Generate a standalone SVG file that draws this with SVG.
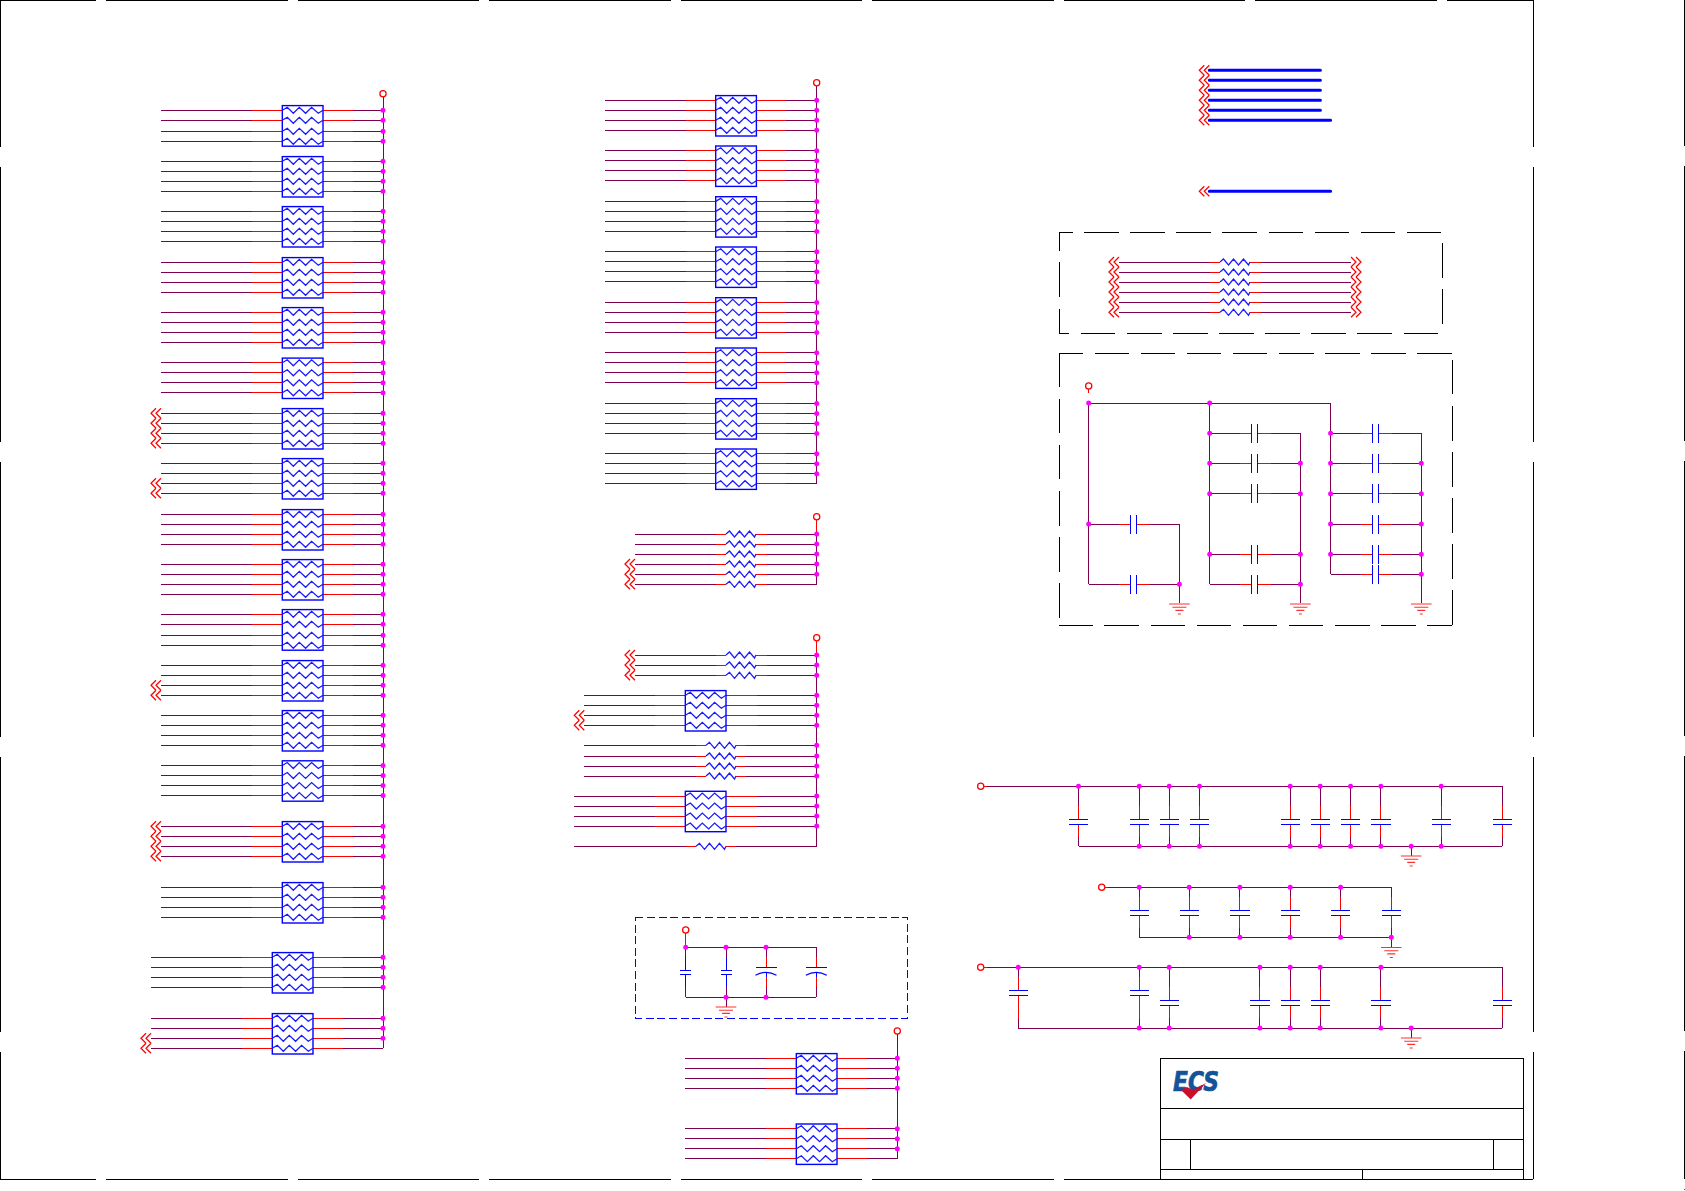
<svg xmlns="http://www.w3.org/2000/svg" width="1685" height="1191" viewBox="0 0 1685 1191">
<style>
.p{fill:none;stroke:#7f0050;stroke-width:1;shape-rendering:crispEdges}
.r{fill:none;stroke:#ff0000;stroke-width:1;shape-rendering:crispEdges}
.c{fill:none;stroke:#ff0000;stroke-width:1.25}
.g{fill:none;stroke:#ff3030;stroke-width:1.1}
.b{fill:none;stroke:#0000ff;stroke-width:1;shape-rendering:crispEdges}
.a{fill:none;stroke:#0000ff;stroke-width:1.2}
.z{fill:none;stroke:#1a1aff;stroke-width:1.25}
.bx{fill:none;stroke:#0000ff;stroke-width:1.4}
.bus{fill:none;stroke:#0000ff;stroke-width:3;stroke-linecap:round}
.k{fill:none;stroke:#000000;stroke-width:1;shape-rendering:crispEdges}
.d{fill:none;stroke:#ff00ff;stroke-width:5;stroke-linecap:round}
.dk{fill:none;stroke:#000000;stroke-width:1;stroke-dasharray:34.6 11.5;shape-rendering:crispEdges}
.db{fill:none;stroke:#0000ff;stroke-width:1;stroke-dasharray:8 3.6;shape-rendering:crispEdges}
</style>
<defs>
<path id="z30" class="z" d="M0 0L3.5 -3L8.5 3L13.5 -3L18.5 3L23.5 -3L28.5 3L30 0"/>
<path id="z41" class="z" d="M0 0L5 -3L11 3L17 -3L23.3 3L29.3 -3L36 3L40.7 0"/>
<g id="rp"><rect class="bx" x="0" y="-4.7" width="40.7" height="40.4"/><use href="#z41"/><use href="#z41" y="10"/><use href="#z41" y="20"/><use href="#z41" y="30"/></g>
<g id="rp2"><rect class="bx" x="0" y="-4.7" width="40.7" height="40.6"/><use href="#z41"/><use href="#z41" y="10"/><use href="#z41" y="21"/><use href="#z41" y="31"/></g>
<path id="ch" class="c" d="M5 -5L0 0L5 5M10 -5L5 0L10 5"/>
<path id="chr" class="c" d="M0 -5L5 0L0 5M5 -5L10 0L5 5"/>
<g id="wA"><path class="p" d="M-121.3 0H-30M70.7 0H100.7M-121.3 10H-30M70.7 10H100.7M-121.3 20H-30M70.7 20H100.7M-121.3 30H-30M70.7 30H100.7"/><path class="r" d="M-30 0H0M40.7 0H70.7M-30 10H0M40.7 10H70.7M-30 20H0M40.7 20H70.7M-30 30H0M40.7 30H70.7"/></g>
<g id="wA2"><path class="p" d="M-121.3 0H-30M70.7 0H100.7M-121.3 10H-30M70.7 10H100.7M-121.3 21H-30M70.7 21H100.7M-121.3 31H-30M70.7 31H100.7"/><path class="r" d="M-30 0H0M40.7 0H70.7M-30 10H0M40.7 10H70.7M-30 21H0M40.7 21H70.7M-30 31H0M40.7 31H70.7"/></g>
<g id="wB"><path class="p" d="M-121.3 0H-30M70.7 0H110.7M-121.3 10H-30M70.7 10H110.7M-121.3 20H-30M70.7 20H110.7M-121.3 30H-30M70.7 30H110.7"/><path class="r" d="M-30 0H0M40.7 0H70.7M-30 10H0M40.7 10H70.7M-30 20H0M40.7 20H70.7M-30 30H0M40.7 30H70.7"/></g>
<g id="wC"><path class="p" d="M-111 0H-30M70.7 0H101M-111 10H-30M70.7 10H101M-111 20H-30M70.7 20H101M-111 30H-30M70.7 30H101"/><path class="r" d="M-30 0H0M40.7 0H70.7M-30 10H0M40.7 10H70.7M-30 20H0M40.7 20H70.7M-30 30H0M40.7 30H70.7"/></g>
<g id="wD"><path class="p" d="M-101 0H-30M71.4 0H131.4M-101 10H-30M71.4 10H131.4M-101 20H-30M71.4 20H131.4M-101 30H-30M71.4 30H131.4"/><path class="r" d="M-30 0H0M40.7 0H71.4M-30 10H0M40.7 10H71.4M-30 20H0M40.7 20H71.4M-30 30H0M40.7 30H71.4"/></g>
<g id="wE"><path class="p" d="M-111 0H-30M71.4 0H131.4M-111 10H-30M71.4 10H131.4M-111 20H-30M71.4 20H131.4M-111 30H-30M71.4 30H131.4"/><path class="r" d="M-30 0H0M40.7 0H71.4M-30 10H0M40.7 10H71.4M-30 20H0M40.7 20H71.4M-30 30H0M40.7 30H71.4"/></g>
<g id="wS"><path class="p" d="M-91 0H-10M40.7 0H90.7"/><path class="r" d="M-10 0H0M30 0H40.7"/><use href="#z30"/></g>
<g id="wT"><path class="p" d="M-121.7 0H-10M40 0H110.7"/><path class="r" d="M-10 0H0M30 0H40"/><use href="#z30"/></g>
<g id="wU"><path class="p" d="M-121.7 0H-10M39.7 0H120.7"/><path class="r" d="M-10 0H0M30 0H39.7"/><use href="#z30"/></g>
<g id="wV"><path class="p" d="M-101 0H-10M40.7 0H131"/><path class="r" d="M-10 0H0M30 0H40.7"/><use href="#z30"/></g>
<path id="d4" class="d" d="M0 0h0M0 10h0M0 20h0M0 30h0"/>
<path id="d5" class="d" d="M0 0h0M0 10h0M0 21h0M0 31h0"/>
<path id="d3" class="d" d="M0 0h0M0 10h0M0 20h0"/>
<g id="capH"><path class="p" d="M0 0H30.3M61.3 0H90.7"/><path class="r" d="M30.3 0H42M47.7 0H61.3"/><path class="b" d="M42 -9.5V9.5M47.7 -9.5V9.5"/></g>
<g id="cap60"><path class="p" d="M0 0V20M0 50.7V60"/><path class="r" d="M0 20V33M0 38V50.7"/><path class="b" d="M-9.6 33H9.6M-9.6 38H9.6"/></g>
<g id="cap50"><path class="p" d="M0 0V9.4M0 41V50"/><path class="r" d="M0 9.4V23.4M0 28.4V41"/><path class="b" d="M-9.6 23.4H9.6M-9.6 28.4H9.6"/></g>
<g id="capA"><path class="p" d="M0 0V10M0 52V60.7"/><path class="r" d="M0 10V23M0 28V52"/><path class="b" d="M-9.6 23H9.6M-9.6 28H9.6"/></g>
<g id="capB"><path class="p" d="M0 0V20M0 51V60.7"/><path class="r" d="M0 20V33M0 38V51"/><path class="b" d="M-9.6 33H9.6M-9.6 38H9.6"/></g>
<g id="capS"><path class="p" d="M0 0V10M0 40V50"/><path class="b" d="M0 10V23M0 27.4V40M-5.5 23H5.5M-5.5 27.4H5.5"/></g>
<g id="capP"><path class="p" d="M0 0V10M0 40V50"/><path class="r" d="M0 10V20M0 30V40"/><path class="b" d="M-10.5 20H10.5M0 24.7V30"/><path class="a" d="M-10.5 28Q0 22 10.5 28"/></g>
<path id="gnd" class="g" d="M-10.3 0H10.3M-7 3.2H7M-4 6.4H4M-1.5 10H1.5"/>
<circle id="pwr" class="c" r="3.1" fill="none"/>
</defs>

<g id="frame">
<path class="k" d="M0 0.5H96M106 0.5H287.5M297.5 0.5H479M489 0.5H670.5M680.5 0.5H862M872 0.5H1053.5M1063.5 0.5H1245M1255 0.5H1436.5M1446.5 0.5H1533.3"/>
<path class="k" d="M0 1179.3H96M106 1179.3H287.5M297.5 1179.3H479M489 1179.3H670.5M680.5 1179.3H862M872 1179.3H1053.5M1063.5 1179.3H1245M1255 1179.3H1436.5M1446.5 1179.3H1533.3"/>
<path class="k" d="M0.5 0V146.5M0.5 166.5V441.5M0.5 461.5V736.5M0.5 756.5V1031.5M0.5 1051.5V1179.3"/>
<path class="k" d="M1533.3 0V146.5M1533.3 166.5V441.5M1533.3 461.5V736.5M1533.3 756.5V1031.5M1533.3 1051.5V1179.3"/>
<path class="k" d="M1684.3 0V146M1684.3 166V441M1684.3 461V736M1684.3 756V1031M1684.3 1051V1179.3"/>
</g>

<g id="connectors">
<use href="#wA2" x="282.3" y="110.3"/><use href="#wA" x="282.3" y="161.3"/><use href="#wA" x="282.3" y="211.3"/><use href="#wA" x="282.3" y="262.3"/><use href="#wA" x="282.3" y="312.3"/><use href="#wA" x="282.3" y="362.8"/><use href="#wA" x="282.3" y="413.3"/><use href="#wA" x="282.3" y="463.3"/><use href="#wA" x="282.3" y="514.3"/><use href="#wA" x="282.3" y="564.3"/><use href="#wA2" x="282.3" y="614.3"/><use href="#wA" x="282.3" y="665.3"/><use href="#wA" x="282.3" y="715.3"/><use href="#wA" x="282.3" y="765.5"/><use href="#wA" x="282.3" y="826.3"/><use href="#wA" x="282.3" y="887.3"/>
<use href="#wB" x="272.3" y="957.3"/><use href="#wB" x="272.3" y="1018.3"/>
<path class="p" d="M383 97V1048.3"/>
<use href="#wC" x="715.7" y="100.3"/><use href="#wC" x="715.7" y="150.7"/><use href="#wC" x="715.7" y="201.4"/><use href="#wC" x="715.7" y="251.7"/><use href="#wC" x="715.7" y="302.4"/><use href="#wC" x="715.7" y="352.7"/><use href="#wC" x="715.7" y="403.4"/><use href="#wC" x="715.7" y="453.7"/>
<path class="p" d="M816.7 85.7V483.7"/>
<use href="#wS" x="726" y="534"/><use href="#wS" x="726" y="544"/><use href="#wS" x="726" y="554"/><use href="#wS" x="726" y="564"/><use href="#wS" x="726" y="574.3"/><use href="#wS" x="726" y="584.3"/>
<path class="r" d="M816.7 519.7V534"/><path class="p" d="M816.7 534V584.3"/>
<use href="#wS" x="726" y="655"/><use href="#wS" x="726" y="665"/><use href="#wS" x="726" y="675.3"/>
<use href="#wD" x="685.3" y="695.3"/>
<use href="#wT" x="706" y="745.3"/><use href="#wT" x="706" y="756"/><use href="#wT" x="706" y="766"/><use href="#wT" x="706" y="776"/>
<use href="#wE" x="685.3" y="796"/>
<use href="#wU" x="696" y="846.3"/>
<path class="r" d="M816.7 640.7V655"/><path class="p" d="M816.7 655V846.3"/>
<use href="#wC" x="796.3" y="1058.3"/><use href="#wC" x="796.3" y="1128.7"/>
<path class="p" d="M897.3 1034V1159"/>
<path class="bus" d="M1209.3 70.3H1320.4M1209.3 80.3H1320.4M1209.3 90.3H1320.4M1209.3 100.3H1320.4M1209.3 110.3H1320.4M1209.3 120.3H1330.6M1209.3 191.3H1330.6"/>
<use href="#wV" x="1220" y="262"/><use href="#wV" x="1220" y="272"/><use href="#wV" x="1220" y="282"/><use href="#wV" x="1220" y="292"/><use href="#wV" x="1220" y="302"/><use href="#wV" x="1220" y="312.3"/>
<path class="p" d="M1088.7 403V584.3M1088.7 403H1330.3V574.3M1209.7 403V584.3M1179.4 524V603M1300.4 433.3V603M1421.3 433.3V603"/>
<path class="r" d="M1088.7 389V393"/>
<path class="p" d="M985 786.3H1502.3M1078.5 846.3H1502.3M1411.2 846.3V856"/><path class="r" d="M983.8 786.3H987"/>
<path class="p" d="M1106 887.3H1391.3M1139.2 937.3H1391.3V947"/><path class="r" d="M1104.7 887.3H1108"/>
<path class="p" d="M985 967.3H1502.3M1018.2 1028H1502.3M1411.2 1028V1037.7"/><path class="r" d="M983.8 967.3H987"/>
<path class="p" d="M685.7 947.3H816.3M685.7 997.3H816.3M726 997.3V1007"/><path class="r" d="M685.7 933V947"/>
</g>

<g id="offpage">
<use href="#ch" x="151" y="413.3"/><use href="#ch" x="151" y="423.3"/><use href="#ch" x="151" y="433.3"/><use href="#ch" x="151" y="443.3"/>
<use href="#ch" x="151" y="483.3"/><use href="#ch" x="151" y="493.3"/>
<use href="#ch" x="151" y="685.3"/><use href="#ch" x="151" y="695.3"/>
<use href="#ch" x="151" y="826.3"/><use href="#ch" x="151" y="836.3"/><use href="#ch" x="151" y="846.3"/><use href="#ch" x="151" y="856.3"/>
<use href="#ch" x="141" y="1038.3"/><use href="#ch" x="141" y="1048.3"/>
<use href="#ch" x="625" y="564"/><use href="#ch" x="625" y="574.3"/><use href="#ch" x="625" y="584.3"/>
<use href="#ch" x="625" y="655"/><use href="#ch" x="625" y="665"/><use href="#ch" x="625" y="675.3"/>
<use href="#ch" x="574.3" y="715.3"/><use href="#ch" x="574.3" y="725.3"/>
<use href="#ch" x="1199.3" y="70.3"/><use href="#ch" x="1199.3" y="80.3"/><use href="#ch" x="1199.3" y="90.3"/><use href="#ch" x="1199.3" y="100.3"/><use href="#ch" x="1199.3" y="110.3"/><use href="#ch" x="1199.3" y="120.3"/><use href="#ch" x="1199.3" y="191.3"/>
<use href="#ch" x="1109" y="262"/><use href="#ch" x="1109" y="272"/><use href="#ch" x="1109" y="282"/><use href="#ch" x="1109" y="292"/><use href="#ch" x="1109" y="302"/><use href="#ch" x="1109" y="312.3"/>
<use href="#chr" x="1351" y="262"/><use href="#chr" x="1351" y="272"/><use href="#chr" x="1351" y="282"/><use href="#chr" x="1351" y="292"/><use href="#chr" x="1351" y="302"/><use href="#chr" x="1351" y="312.3"/>
</g>

<g id="resistor-packs">
<g id="rp01"><use href="#rp2" x="282.3" y="110.3"/></g><g id="rp02"><use href="#rp" x="282.3" y="161.3"/></g><g id="rp03"><use href="#rp" x="282.3" y="211.3"/></g><g id="rp04"><use href="#rp" x="282.3" y="262.3"/></g><g id="rp05"><use href="#rp" x="282.3" y="312.3"/></g><g id="rp06"><use href="#rp" x="282.3" y="362.8"/></g><g id="rp07"><use href="#rp" x="282.3" y="413.3"/></g><g id="rp08"><use href="#rp" x="282.3" y="463.3"/></g><g id="rp09"><use href="#rp" x="282.3" y="514.3"/></g><g id="rp10"><use href="#rp" x="282.3" y="564.3"/></g><g id="rp11"><use href="#rp2" x="282.3" y="614.3"/></g><g id="rp12"><use href="#rp" x="282.3" y="665.3"/></g><g id="rp13"><use href="#rp" x="282.3" y="715.3"/></g><g id="rp14"><use href="#rp" x="282.3" y="765.5"/></g><g id="rp15"><use href="#rp" x="282.3" y="826.3"/></g><g id="rp16"><use href="#rp" x="282.3" y="887.3"/></g><g id="rp17"><use href="#rp" x="272.3" y="957.3"/></g><g id="rp18"><use href="#rp" x="272.3" y="1018.3"/></g>
<g id="rp19"><use href="#rp" x="715.7" y="100.3"/></g><g id="rp20"><use href="#rp" x="715.7" y="150.7"/></g><g id="rp21"><use href="#rp" x="715.7" y="201.4"/></g><g id="rp22"><use href="#rp" x="715.7" y="251.7"/></g><g id="rp23"><use href="#rp" x="715.7" y="302.4"/></g><g id="rp24"><use href="#rp" x="715.7" y="352.7"/></g><g id="rp25"><use href="#rp" x="715.7" y="403.4"/></g><g id="rp26"><use href="#rp" x="715.7" y="453.7"/></g>
<g id="rp27"><use href="#rp" x="685.3" y="695.3"/></g><g id="rp28"><use href="#rp" x="685.3" y="796"/></g>
<g id="rp29"><use href="#rp" x="796.3" y="1058.3"/></g><g id="rp30"><use href="#rp" x="796.3" y="1128.7"/></g>
</g>

<g id="dashed-boxes">
<path class="dk" stroke-dashoffset="21.3" d="M1059.3 232.3H1442.7"/><path class="dk" stroke-dashoffset="16" d="M1059.3 232.3V333.3"/><path class="dk" stroke-dashoffset="24.6" d="M1059.3 333.3H1442.7"/><path class="dk" stroke-dashoffset="35.3" d="M1442.7 232.3V333.3"/>
<path class="dk" stroke-dashoffset="10.9" d="M1059.3 353.7H1452.3"/><path class="dk" stroke-dashoffset="1.1" d="M1059.3 353.7V625.3"/><path class="dk" stroke-dashoffset="1" d="M1059.3 625.3H1452.3"/><path class="dk" stroke-dashoffset="40" d="M1452.3 353.7V625.3"/>
<rect class="db" x="635.3" y="917.3" width="272" height="101"/>
</g>

<g id="capacitors">
<g id="c1"><use href="#capH" x="1088.7" y="524"/></g><g id="c2"><use href="#capH" x="1088.7" y="584.3"/></g>
<g id="c3"><use href="#capH" x="1209.7" y="433.3"/></g><g id="c4"><use href="#capH" x="1209.7" y="463.3"/></g><g id="c5"><use href="#capH" x="1209.7" y="493.7"/></g><g id="c6"><use href="#capH" x="1209.7" y="554.3"/></g><g id="c7"><use href="#capH" x="1209.7" y="584.3"/></g>
<g id="c8"><use href="#capH" x="1330.6" y="433.3"/></g><g id="c9"><use href="#capH" x="1330.6" y="463.3"/></g><g id="c10"><use href="#capH" x="1330.6" y="493.7"/></g><g id="c11"><use href="#capH" x="1330.6" y="524"/></g><g id="c12"><use href="#capH" x="1330.6" y="554.3"/></g><g id="c13"><use href="#capH" x="1330.6" y="574.3"/></g>
<g id="c14"><use href="#cap60" x="1078.5" y="786.3"/></g><g id="c15"><use href="#cap60" x="1139.2" y="786.3"/></g><g id="c16"><use href="#cap60" x="1169.2" y="786.3"/></g><g id="c17"><use href="#cap60" x="1199.5" y="786.3"/></g><g id="c18"><use href="#cap60" x="1290.2" y="786.3"/></g><g id="c19"><use href="#cap60" x="1320.2" y="786.3"/></g><g id="c20"><use href="#cap60" x="1350.6" y="786.3"/></g><g id="c21"><use href="#cap60" x="1380.9" y="786.3"/></g><g id="c22"><use href="#cap60" x="1441.2" y="786.3"/></g><g id="c23"><use href="#cap60" x="1502.3" y="786.3"/></g>
<g id="c24"><use href="#cap50" x="1139.2" y="887.3"/></g><g id="c25"><use href="#cap50" x="1189.2" y="887.3"/></g><g id="c26"><use href="#cap50" x="1239.9" y="887.3"/></g><g id="c27"><use href="#cap50" x="1290.2" y="887.3"/></g><g id="c28"><use href="#cap50" x="1340.6" y="887.3"/></g><g id="c29"><use href="#cap50" x="1391.3" y="887.3"/></g>
<g id="c30"><use href="#capA" x="1018.2" y="967.3"/></g><g id="c31"><use href="#capA" x="1139.2" y="967.3"/></g><g id="c32"><use href="#capB" x="1169.2" y="967.3"/></g><g id="c33"><use href="#capB" x="1259.9" y="967.3"/></g><g id="c34"><use href="#capB" x="1290.2" y="967.3"/></g><g id="c35"><use href="#capB" x="1320.2" y="967.3"/></g><g id="c36"><use href="#capB" x="1380.9" y="967.3"/></g><g id="c37"><use href="#capB" x="1502.3" y="967.3"/></g>
<g id="c38"><use href="#capS" x="685.7" y="947.3"/></g><g id="c39"><use href="#capS" x="726" y="947.3"/></g><g id="c40"><use href="#capP" x="766" y="947.3"/></g><g id="c41"><use href="#capP" x="816.3" y="947.3"/></g>
</g>

<g id="grounds">
<use href="#gnd" x="1179.4" y="604"/><use href="#gnd" x="1300.4" y="604"/><use href="#gnd" x="1421.3" y="604"/>
<use href="#gnd" x="1411.2" y="856"/><use href="#gnd" x="1391.3" y="947.5"/><use href="#gnd" x="1411.2" y="1038"/><use href="#gnd" x="726" y="1007"/>
</g>

<g id="power">
<use href="#pwr" x="383" y="93.7"/><use href="#pwr" x="816.7" y="82.7"/><use href="#pwr" x="816.7" y="516.7"/><use href="#pwr" x="816.7" y="637.7"/><use href="#pwr" x="897.3" y="1031"/><use href="#pwr" x="1088.7" y="386"/><use href="#pwr" x="980.7" y="786.3"/><use href="#pwr" x="1101.7" y="887.3"/><use href="#pwr" x="980.7" y="967.3"/><use href="#pwr" x="685.7" y="930"/>
</g>

<g id="junctions">
<use href="#d5" x="383" y="110.3"/><use href="#d4" x="383" y="161.3"/><use href="#d4" x="383" y="211.3"/><use href="#d4" x="383" y="262.3"/><use href="#d4" x="383" y="312.3"/><use href="#d4" x="383" y="362.8"/><use href="#d4" x="383" y="413.3"/><use href="#d4" x="383" y="463.3"/><use href="#d4" x="383" y="514.3"/><use href="#d4" x="383" y="564.3"/><use href="#d5" x="383" y="614.3"/><use href="#d4" x="383" y="665.3"/><use href="#d4" x="383" y="715.3"/><use href="#d4" x="383" y="765.5"/><use href="#d4" x="383" y="826.3"/><use href="#d4" x="383" y="887.3"/><use href="#d4" x="383" y="957.3"/><use href="#d3" x="383" y="1018.3"/>
<use href="#d4" x="816.7" y="100.3"/><use href="#d4" x="816.7" y="150.7"/><use href="#d4" x="816.7" y="201.4"/><use href="#d4" x="816.7" y="251.7"/><use href="#d4" x="816.7" y="302.4"/><use href="#d4" x="816.7" y="352.7"/><use href="#d4" x="816.7" y="403.4"/><use href="#d3" x="816.7" y="453.7"/>
<path class="d" d="M816.7 534h0M816.7 544h0M816.7 554h0M816.7 564h0M816.7 574.3h0M816.7 655h0M816.7 665h0M816.7 675.3h0M816.7 695.3h0M816.7 705.3h0M816.7 715.3h0M816.7 725.3h0M816.7 745.3h0M816.7 756h0M816.7 766h0M816.7 776h0M816.7 796h0M816.7 806h0M816.7 816h0M816.7 826h0"/>
<use href="#d4" x="897.3" y="1058.3"/><use href="#d3" x="897.3" y="1128.7"/>
<path class="d" d="M1088.7 403h0M1209.7 403h0M1088.7 524h0M1179.4 584.3h0M1209.7 433.3h0M1209.7 463.3h0M1209.7 493.7h0M1209.7 554.3h0M1300.4 463.3h0M1300.4 493.7h0M1300.4 554.3h0M1300.4 584.3h0M1330.6 433.3h0M1330.6 463.3h0M1330.6 493.7h0M1330.6 524h0M1330.6 554.3h0M1421.3 463.3h0M1421.3 493.7h0M1421.3 524h0M1421.3 554.3h0M1421.3 574.3h0"/>
<path class="d" d="M1078.5 786.3h0M1139.2 786.3h0M1169.2 786.3h0M1199.5 786.3h0M1290.2 786.3h0M1320.2 786.3h0M1350.6 786.3h0M1380.9 786.3h0M1441.2 786.3h0M1139.2 846.3h0M1169.2 846.3h0M1199.5 846.3h0M1290.2 846.3h0M1320.2 846.3h0M1350.6 846.3h0M1380.9 846.3h0M1411.2 846.3h0M1441.2 846.3h0"/>
<path class="d" d="M1139.2 887.3h0M1189.2 887.3h0M1239.9 887.3h0M1290.2 887.3h0M1340.6 887.3h0M1189.2 937.3h0M1239.9 937.3h0M1290.2 937.3h0M1340.6 937.3h0M1391.3 937.3h0"/>
<path class="d" d="M1018.2 967.3h0M1139.2 967.3h0M1169.2 967.3h0M1259.9 967.3h0M1290.2 967.3h0M1320.2 967.3h0M1380.9 967.3h0M1139.2 1028h0M1169.2 1028h0M1259.9 1028h0M1290.2 1028h0M1320.2 1028h0M1380.9 1028h0M1411.2 1028h0"/>
<path class="d" d="M685.7 947.3h0M726 947.3h0M766 947.3h0M726 997.3h0M766 997.3h0"/>
</g>

<g id="title-block">
<rect class="k" x="1160.3" y="1058.3" width="363" height="121"/>
<path class="k" d="M1160.3 1108.3H1523.3M1160.3 1139.3H1523.3M1160.3 1169.3H1523.3M1190.3 1139.3V1169.3M1493.3 1139.3V1169.3M1362.3 1169.3V1179.3"/>
<g id="logo">
<text x="1173" y="1090.5" font-family="'DejaVu Sans',sans-serif" font-weight="700" font-style="italic" font-size="27" fill="#14539a" stroke="#14539a" stroke-width="0.7" textLength="46" lengthAdjust="spacingAndGlyphs">ECS</text>
<polygon points="1181,1090 1190.7,1099.5 1206,1083 1193,1090 1187,1087" fill="#c8102e"/>
</g>
</g>
<rect x="1684" y="1189" width="1" height="1" fill="#0a8a3a"/>
</svg>
